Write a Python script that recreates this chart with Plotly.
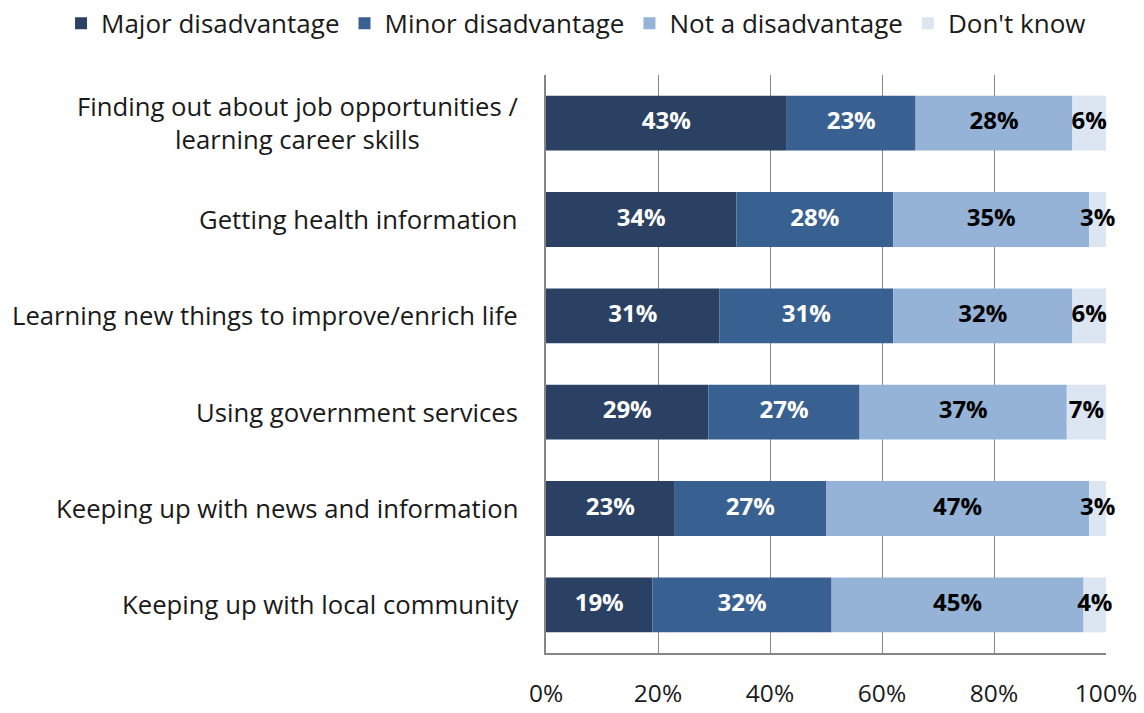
import plotly.graph_objects as go

categories = [
    "Finding out about job opportunities /<br>learning career skills",
    "Getting health information",
    "Learning new things to improve/enrich life",
    "Using government services",
    "Keeping up with news and information",
    "Keeping up with local community",
]
major = [43, 34, 31, 29, 23, 19]
minor = [23, 28, 31, 27, 27, 32]
not_dis = [28, 35, 32, 37, 47, 45]
dont_know = [6, 3, 6, 7, 3, 4]

series = [
    ("Major disadvantage", major, "#2A4164", "white"),
    ("Minor disadvantage", minor, "#386192", "white"),
    ("Not a disadvantage", not_dis, "#95B3D7", "black"),
    ("Don't know", dont_know, "#DCE6F2", "black"),
]

FONT = "Open Sans"
TEXT = "#1a1a1a"
fig = go.Figure()

base = [0] * len(categories)
for name, vals, color, tcolor in series:
    fig.add_trace(go.Bar(
        y=categories, x=vals, base=base, orientation="h", name=name,
        marker=dict(color=color, line=dict(width=0)), width=0.57,
    ))
    centers = [b + v / 2 for b, v in zip(base, vals)]
    fig.add_trace(go.Scatter(
        y=categories, x=centers, mode="text",
        text=[f"{v}%" for v in vals], showlegend=False, hoverinfo="skip",
        textfont=dict(family=FONT, size=24, color=tcolor, weight="bold"),
        cliponaxis=False,
    ))
    base = [b + v for b, v in zip(base, vals)]

# category labels, centred line-by-line and right-aligned to the axis
for cat in categories:
    fig.add_annotation(
        xref="paper", yref="y", x=0, y=cat, xanchor="right", xshift=-26,
        text=cat, showarrow=False, align="center",
        font=dict(family=FONT, size=25.7, color=TEXT),
    )

fig.update_layout(
    width=1144, height=713,
    margin=dict(l=546, r=38, t=75, b=60, autoexpand=False),
    plot_bgcolor="white", paper_bgcolor="white",
    barmode="overlay",
    font=dict(family=FONT, size=25, color=TEXT),
    legend=dict(
        orientation="h", xref="paper", yref="paper",
        x=-0.866, y=1.13, xanchor="left", yanchor="top",
        font=dict(family=FONT, size=26, color=TEXT), itemwidth=30,
        traceorder="normal",
    ),
    xaxis=dict(
        range=[0, 100], tickvals=[0, 20, 40, 60, 80, 100],
        ticktext=["0%", "20%", "40%", "60%", "80%", "100%"],
        showgrid=True, gridcolor="#868686", gridwidth=1,
        showline=True, linecolor="#868686", linewidth=1.5,
        zeroline=False, ticklabelstandoff=18, automargin=False,
        tickfont=dict(family=FONT, size=24.5, color=TEXT),
    ),
    yaxis=dict(
        autorange="reversed", showticklabels=False,
        showline=True, linecolor="#868686", linewidth=1.5,
        showgrid=False, zeroline=False, automargin=False,
    ),
)

fig.write_html("out.html")
